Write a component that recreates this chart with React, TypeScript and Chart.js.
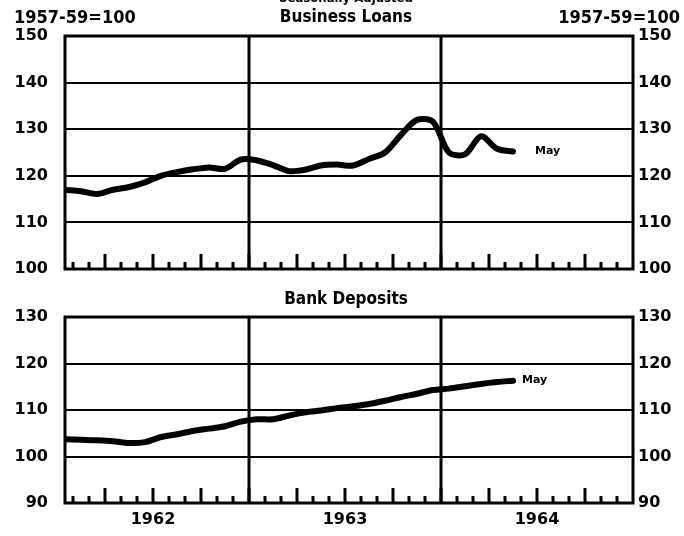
import React, { useEffect, useRef } from "react";
import { Chart, registerables } from "chart.js";

Chart.register(...registerables);

// Monthly observations (seasonally adjusted, 1957-59=100)
const months = [
  "1962-01", "1962-02", "1962-03", "1962-04", "1962-05", "1962-06", "1962-07", "1962-08", "1962-09", "1962-10", "1962-11", "1962-12",
  "1963-01", "1963-02", "1963-03", "1963-04", "1963-05", "1963-06", "1963-07", "1963-08", "1963-09", "1963-10", "1963-11", "1963-12",
  "1964-01", "1964-02", "1964-03", "1964-04", "1964-05",
];
const businessLoans = [
  117.0, 116.7, 116.1, 117.0, 117.6, 118.6, 120.0, 120.8, 121.4, 121.8, 121.5, 123.5,
  123.3, 122.3, 121.0, 121.3, 122.2, 122.4, 122.2, 123.6, 125.0, 128.8, 132.0, 131.6,
  125.0, 124.6, 128.5, 125.8, 125.2,
];
const bankDeposits = [
  103.7, 103.6, 103.5, 103.3, 102.9, 103.1, 104.2, 104.8, 105.5, 106.0, 106.5, 107.5,
  108.0, 108.0, 108.8, 109.5, 109.9, 110.4, 110.8, 111.3, 112.0, 112.8, 113.5, 114.3,
  114.6, 115.1, 115.6, 116.0, 116.3,
];
const loanTicks = [100, 110, 120, 130, 140, 150];
const depositTicks = [90, 100, 110, 120, 130];
const yearLabels = ["1962", "1963", "1964"];
const yearMids = [6, 18, 30]; // months since Jan 1962
const yearBounds = [12, 24];
const xMin = 0.5;
const xMax = 36;
const lastLabel = "May";

const monthPos = (m: string) => {
  const [y, mo] = m.split("-").map(Number);
  return (y - 1962) * 12 + (mo - 1) + 0.5;
};

const NUM_FONT = '"DejaVu Sans", sans-serif';
const NARROW = '"Liberation Sans Narrow", "DejaVu Sans Condensed", "Roboto", sans-serif';

const framePlugin = {
  id: "frame",
  beforeDatasetsDraw(chart: any) {
    const { ctx, chartArea } = chart;
    const xs = chart.scales.x;
    const { left, right, top, bottom } = chartArea;
    ctx.save();
    ctx.strokeStyle = "#000";
    ctx.lineWidth = 3;
    yearBounds.forEach((b) => {
      const x = xs.getPixelForValue(b);
      ctx.beginPath();
      ctx.moveTo(x, top);
      ctx.lineTo(x, bottom);
      ctx.stroke();
    });
    for (let m = 1; m < xMax; m++) {
      const x = xs.getPixelForValue(m);
      const len = m % 3 === 0 ? 15 : 7;
      ctx.beginPath();
      ctx.moveTo(x, bottom);
      ctx.lineTo(x, bottom - len);
      ctx.stroke();
    }
    ctx.strokeRect(left, top, right - left, bottom - top);
    ctx.restore();
  },
  afterDatasetsDraw(chart: any, _args: any, opts: any) {
    const meta = chart.getDatasetMeta(0);
    const pt = meta.data[meta.data.length - 1];
    if (!pt) return;
    const { ctx } = chart;
    ctx.save();
    ctx.fillStyle = "#000";
    ctx.font = "bold 11px " + NUM_FONT;
    ctx.textBaseline = "middle";
    ctx.textAlign = "left";
    ctx.fillText(lastLabel, pt.x + (opts.dx || 10), pt.y + (opts.dy || 0));
    ctx.restore();
  },
};

const noPad = (s: any) => {
  s.paddingTop = 0;
  s.paddingBottom = 0;
  s.paddingLeft = 0;
  s.paddingRight = 0;
};

function makeChart(
  canvas: HTMLCanvasElement,
  values: number[],
  ticks: number[],
  showXLabels: boolean,
  padTop: number,
  xHeight: number,
  labelDx: number,
  labelDy: number
) {
  const data = months.map((m, i) => ({ x: monthPos(m), y: values[i] }));
  const yMin = ticks[0];
  const yMax = ticks[ticks.length - 1];
  const tickFont = { family: NUM_FONT, size: 16, weight: "bold" as const };
  return new Chart(canvas, {
    type: "line",
    data: {
      datasets: [
        {
          data,
          borderColor: "#000",
          borderWidth: 6,
          borderCapStyle: "round",
          borderJoinStyle: "round",
          pointRadius: 0,
          tension: 0.3,
          fill: false,
        },
      ],
    },
    options: {
      animation: false,
      responsive: false,
      events: [],
      layout: { padding: { top: padTop, bottom: 0, left: 0, right: 0 } },
      plugins: {
        legend: { display: false },
        tooltip: { enabled: false },
        title: { display: false },
        frame: { dx: labelDx, dy: labelDy },
      } as any,
      scales: {
        x: {
          type: "linear",
          min: xMin,
          max: xMax,
          display: true,
          grid: { display: false, drawTicks: false },
          border: { display: false },
          afterBuildTicks: (s: any) => {
            s.ticks = yearMids.map((v) => ({ value: v }));
          },
          afterFit: (s: any) => {
            s.height = xHeight;
            noPad(s);
          },
          ticks: {
            display: showXLabels,
            autoSkip: false,
            maxRotation: 0,
            padding: 7,
            color: "#000",
            font: tickFont,
            callback: (_v: any, i: number) => yearLabels[i],
          },
        },
        y: {
          type: "linear",
          position: "left",
          min: yMin,
          max: yMax,
          afterBuildTicks: (s: any) => {
            s.ticks = ticks.map((v) => ({ value: v }));
          },
          afterFit: (s: any) => {
            s.width = 65;
            noPad(s);
          },
          grid: { color: "#000", lineWidth: 2, drawTicks: false },
          border: { display: false },
          ticks: { color: "#000", font: tickFont, padding: 17 },
        },
        y2: {
          type: "linear",
          position: "right",
          min: yMin,
          max: yMax,
          afterBuildTicks: (s: any) => {
            s.ticks = ticks.map((v) => ({ value: v }));
          },
          afterFit: (s: any) => {
            s.width = 51;
            noPad(s);
          },
          grid: { display: false, drawTicks: false },
          border: { display: false },
          ticks: { color: "#000", font: tickFont, padding: 5 },
        },
      },
    },
    plugins: [framePlugin],
  } as any);
}

const textBase: React.CSSProperties = {
  position: "absolute",
  fontFamily: NARROW,
  fontWeight: "bold",
  fontStretch: "condensed",
  color: "#000",
  whiteSpace: "nowrap",
  lineHeight: 1,
};

export default function App() {
  const topRef = useRef<HTMLCanvasElement>(null);
  const botRef = useRef<HTMLCanvasElement>(null);

  useEffect(() => {
    const c1 = makeChart(topRef.current!, businessLoans, loanTicks, false, 36, 11, 22, 0);
    const c2 = makeChart(botRef.current!, bankDeposits, depositTicks, true, 37, 33, 9, -1);
    return () => {
      c1.destroy();
      c2.destroy();
    };
  }, []);

  return (
    <div
      style={{
        position: "absolute",
        left: 0,
        top: 0,
        width: 684,
        height: 536,
        background: "#fff",
        overflow: "hidden",
      }}
    >
      <canvas ref={topRef} width={684} height={280} style={{ position: "absolute", left: 0, top: 0 }} />
      <canvas ref={botRef} width={684} height={256} style={{ position: "absolute", left: 0, top: 280 }} />
      <div style={{ ...textBase, left: 0, width: 692, textAlign: "center", top: -9, fontSize: 13 }}>
        Seasonally Adjusted
      </div>
      <div style={{ ...textBase, left: 14, top: 8, fontSize: 18 }}>1957-59=100</div>
      <div style={{ ...textBase, right: 4, top: 8, fontSize: 18 }}>1957-59=100</div>
      <div style={{ ...textBase, left: 0, width: 692, textAlign: "center", top: 8, fontSize: 17 }}>
        Business Loans
      </div>
      <div style={{ ...textBase, left: 0, width: 692, textAlign: "center", top: 290, fontSize: 17 }}>
        Bank Deposits
      </div>
    </div>
  );
}
